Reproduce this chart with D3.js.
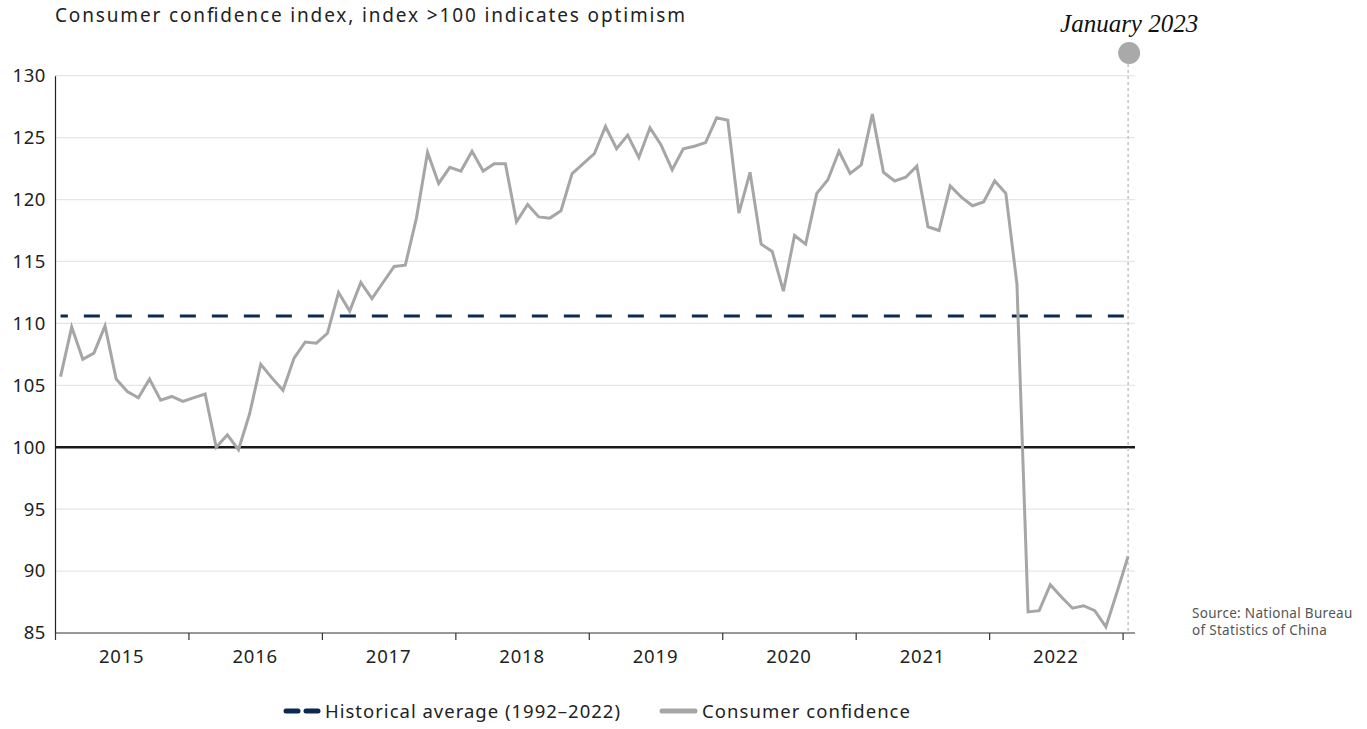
<!DOCTYPE html>
<html>
<head>
<meta charset="utf-8">
<script src="https://cdn.jsdelivr.net/npm/d3@7"></script>
<style>
  body { margin: 0; background: #fff; overflow: hidden; }
  text { font-family: "Noto Sans", sans-serif; }
</style>
</head>
<body>
<div id="chart"></div>
<script>

// Consumer confidence index, monthly, Jan 2015 - Jan 2023
let confidence = [
	105.7, 109.7, 107.1, 107.6, 109.8, 105.5, 104.5, 104.0, 105.5, 103.8, 104.1, 103.7,
	104.0, 104.3, 100.0, 101.0, 99.8, 102.7, 106.7, 105.6, 104.6, 107.2, 108.5, 108.4,
	109.2, 112.5, 111.0, 113.3, 112.0, 113.3, 114.6, 114.7, 118.5, 123.8, 121.3, 122.6,
	122.3, 123.9, 122.3, 122.9, 122.9, 118.2, 119.6, 118.6, 118.5, 119.1, 122.1, 122.9,
	123.7, 125.9, 124.1, 125.2, 123.4, 125.8, 124.4, 122.4, 124.1, 124.3, 124.6, 126.6,
	126.4, 118.9, 122.2, 116.4, 115.8, 112.6, 117.1, 116.4, 120.5, 121.6, 123.9, 122.1,
	122.8, 126.9, 122.2, 121.5, 121.8, 122.7, 117.8, 117.5, 121.1, 120.2, 119.5, 119.8,
	121.5, 120.5, 113.2, 86.7, 86.8, 88.9, 87.9, 87.0, 87.2, 86.8, 85.5, 88.3,
	91.2
];
let years = ["2015", "2016", "2017", "2018", "2019", "2020", "2021", "2022"];
let yTicks = [85, 90, 95, 100, 105, 110, 115, 120, 125, 130];
let historicalAverage = 110.6;
let markerLabel = "January 2023";
let legendLabels = ["Historical average (1992\u20132022)", "Consumer confidence"];
let sourceLines = ["Source: National Bureau", "of Statistics of China"];
let title = "Consumer confidence index, index >100 indicates optimism";

let width = 1367, height = 729;
let margin = { top: 75.7, left: 55 };
let plotRight = 1135;

let svg = d3.select("#chart").append("svg")
	.attr("width", width)
	.attr("height", height);

// Scales: month index on x (each point sits in the middle of its month)
let x = d3.scaleLinear()
	.domain([0, confidence.length])
	.range([margin.left, 1133.7]);

let y = d3.scaleLinear()
	.domain([85, 130])
	.range([633, margin.top]);

// Title
svg.append("text")
	.attr("x", 55)
	.attr("y", 22)
	.attr("textLength", 630)
	.attr("lengthAdjust", "spacing")
	.attr("style", "font-size: 19px; fill: #222")
	.text(title);

// Gridlines
svg.append("g")
	.selectAll("line")
	.data(yTicks.filter(d => d !== 85 && d !== 100))
	.join("line")
	.attr("x1", margin.left)
	.attr("x2", plotRight)
	.attr("y1", d => y(d))
	.attr("y2", d => y(d))
	.attr("stroke", "#e6e6e6")
	.attr("stroke-width", 1.2);

// Y axis
let yAxis = d3.axisLeft(y)
	.tickValues(yTicks)
	.tickSize(0)
	.tickPadding(9);

let yg = svg.append("g")
	.attr("transform", "translate(" + margin.left + ",0)")
	.call(yAxis);
yg.select(".domain").attr("stroke", "#222").attr("stroke-width", 1.2);
yg.selectAll("text")
	.attr("style", "font-size: 18.5px; fill: #222; letter-spacing: 0.6px; font-family: 'Noto Sans', sans-serif");

// X axis: ticks at year boundaries, labels at mid-year
let xAxis = d3.axisBottom(x)
	.tickValues(d3.range(0, confidence.length + 1, 12))
	.tickSize(7)
	.tickSizeOuter(0)
	.tickFormat("");

let xg = svg.append("g")
	.attr("transform", "translate(0," + y(85) + ")")
	.call(xAxis);
xg.select(".domain").attr("stroke", "#333").attr("stroke-width", 1.2)
	.attr("d", "M" + margin.left + ",0H" + plotRight);
xg.selectAll(".tick line").attr("stroke", "#333").attr("stroke-width", 1.2);

svg.append("g")
	.selectAll("text")
	.data(years)
	.join("text")
	.attr("x", (d, i) => x(i * 12 + 6))
	.attr("y", y(85) + 30)
	.attr("text-anchor", "middle")
	.attr("style", "font-size: 18.5px; fill: #222; letter-spacing: 0.8px")
	.text(d => d);

// 100 baseline
svg.append("line")
	.attr("x1", margin.left)
	.attr("x2", plotRight)
	.attr("y1", y(100))
	.attr("y2", y(100))
	.attr("stroke", "#1a1a1a")
	.attr("stroke-width", 2.5);

// Historical average
svg.append("line")
	.attr("x1", x(0.5))
	.attr("x2", x(confidence.length - 0.5))
	.attr("y1", y(historicalAverage))
	.attr("y2", y(historicalAverage))
	.attr("stroke", "#0d2a4d")
	.attr("stroke-width", 3)
	.attr("stroke-dasharray", "16,16")
	.attr("stroke-dashoffset", 8.7);

// Marker for latest month
let last = confidence.length - 1;
svg.append("line")
	.attr("x1", x(last + 0.5))
	.attr("x2", x(last + 0.5))
	.attr("y1", 64)
	.attr("y2", y(85))
	.attr("stroke", "#c4c4c4")
	.attr("stroke-width", 1.5)
	.attr("stroke-dasharray", "3,3");

svg.append("circle")
	.attr("cx", x(last + 0.5) + 1)
	.attr("cy", 53)
	.attr("r", 11)
	.attr("fill", "#a9a9a9");

svg.append("text")
	.attr("x", x(last + 0.5) + 1)
	.attr("y", 32)
	.attr("text-anchor", "middle")
	.attr("style", "font-family: 'Liberation Serif', serif; font-style: italic; font-size: 25px; fill: #111")
	.text(markerLabel);

// Confidence line
let line = d3.line()
	.x((d, i) => x(i + 0.5))
	.y(d => y(d));

svg.append("path")
	.datum(confidence)
	.attr("d", line)
	.attr("fill", "none")
	.attr("stroke", "#a6a6a6")
	.attr("stroke-width", 3)
	.attr("stroke-linejoin", "miter");

// Source
svg.append("g")
	.selectAll("text")
	.data(sourceLines)
	.join("text")
	.attr("x", 1192)
	.attr("y", (d, i) => 618 + i * 17)
	.attr("style", "font-size: 13.5px; fill: #555; letter-spacing: 0.3px")
	.text(d => d);

// Legend (kept inside the 729px window)
let legend = svg.append("g").attr("transform", "translate(0,711)");

legend.append("line")
	.attr("x1", 286).attr("x2", 298)
	.attr("stroke", "#0d2a4d").attr("stroke-width", 5).attr("stroke-linecap", "round");
legend.append("line")
	.attr("x1", 306).attr("x2", 318)
	.attr("stroke", "#0d2a4d").attr("stroke-width", 5).attr("stroke-linecap", "round");
legend.append("text")
	.attr("x", 325).attr("y", 6.5)
	.attr("textLength", 295)
	.attr("lengthAdjust", "spacing")
	.attr("style", "font-size: 18.5px; fill: #222")
	.text(legendLabels[0]);

legend.append("line")
	.attr("x1", 662).attr("x2", 695)
	.attr("stroke", "#a6a6a6").attr("stroke-width", 5).attr("stroke-linecap", "round");
legend.append("text")
	.attr("x", 702).attr("y", 6.5)
	.attr("textLength", 208)
	.attr("lengthAdjust", "spacing")
	.attr("style", "font-size: 18.5px; fill: #222")
	.text(legendLabels[1]);

</script>
</body>
</html>
